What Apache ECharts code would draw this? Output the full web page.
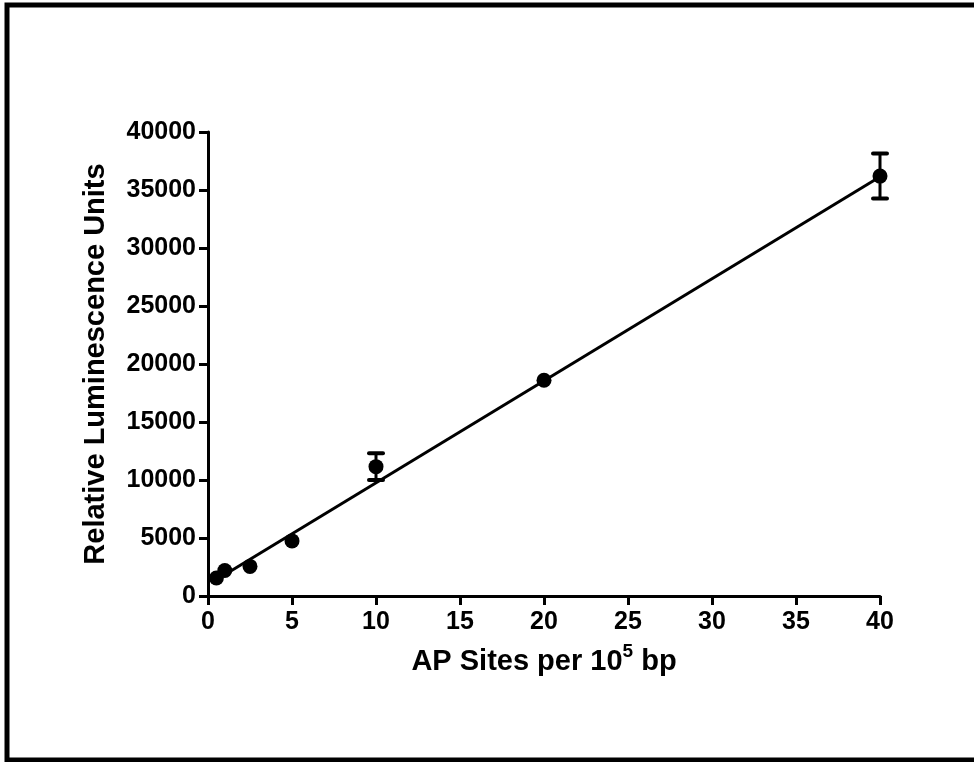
<!DOCTYPE html>
<html>
<head>
<meta charset="utf-8">
<script src="https://cdn.jsdelivr.net/npm/echarts@6/dist/echarts.min.js"></script>
<style>
  html, body { margin: 0; padding: 0; background: #fff; }
  #chart { width: 974px; height: 762px; }
</style>
</head>
<body>
<div id="chart"></div>
<script>
// values
var sites = [0.5, 1, 2.5, 5, 10, 20, 40];
var rlu = [1550, 2200, 2550, 4750, 11150, 18600, 36200];
var rluErr = [0, 0, 0, 0, 1160, 0, 1940];
// fitted line end points
var fitLine = [[0.5, 1400], [40, 36150]];
var xTicks = [0, 5, 10, 15, 20, 25, 30, 35, 40];

var font = '"Liberation Sans", Arial, sans-serif';

var points = sites.map(function (x, i) { return [x, rlu[i]]; });
var bars = sites.map(function (x, i) { return [x, rlu[i], rluErr[i]]; });

var chart = echarts.init(document.getElementById('chart'));
chart.setOption({
  animation: false,
  backgroundColor: '#fff',
  graphic: [{
    type: 'polyline',
    shape: { points: [[980, 5], [7, 5], [7, 760], [980, 760]] },
    style: { stroke: '#000', lineWidth: 5, fill: null }
  }],
  grid: { left: 208, right: 94, top: 132, bottom: 166 },
  xAxis: {
    type: 'value',
    min: 0, max: 40, interval: 5,
    name: '{b|AP Sites per 10}{s|5}{b| bp}',
    nameLocation: 'middle',
    nameGap: 46,
    nameTextStyle: {
      rich: {
        b: { fontFamily: font, fontWeight: 'bold', fontSize: 29, color: '#000', verticalAlign: 'bottom', lineHeight: 34 },
        s: { fontFamily: font, fontWeight: 'bold', fontSize: 19, color: '#000', verticalAlign: 'top', lineHeight: 34, padding: [0, 0, 14, 0] }
      }
    },
    splitLine: { show: false },
    axisLine: { onZero: false, lineStyle: { color: '#000', width: 3 } },
    axisTick: { inside: false, length: 9, lineStyle: { color: '#000', width: 3 } },
    axisLabel: {
      margin: 14, color: '#000', fontFamily: font, fontWeight: 'bold', fontSize: 25,
      customValues: xTicks
    }
  },
  yAxis: {
    type: 'value',
    min: 0, max: 40000, interval: 5000,
    name: 'Relative Luminescence Units',
    nameLocation: 'middle',
    nameGap: 98,
    nameTextStyle: { fontFamily: font, fontWeight: 'bold', fontSize: 29, color: '#000' },
    splitLine: { show: false },
    axisLine: { show: true, lineStyle: { color: '#000', width: 3 } },
    axisTick: { show: true, length: 9, lineStyle: { color: '#000', width: 3 } },
    axisLabel: {
      margin: 12, color: '#000', fontFamily: font, fontWeight: 'bold', fontSize: 25,
      formatter: function (v) { return String(v); }
    }
  },
  series: [
    {
      type: 'line',
      data: fitLine,
      showSymbol: false,
      lineStyle: { color: '#000', width: 3 },
      z: 2
    },
    {
      type: 'custom',
      data: bars,
      z: 3,
      renderItem: function (params, api) {
        var e = api.value(2);
        if (!e) return;
        var x = api.value(0), y = api.value(1);
        var top = api.coord([x, y + e]);
        var bot = api.coord([x, y - e]);
        var w = 7;
        return {
          type: 'group',
          children: [
            { type: 'line', shape: { x1: top[0], y1: top[1], x2: bot[0], y2: bot[1] }, style: { stroke: '#000', lineWidth: 3 } },
            { type: 'line', shape: { x1: top[0] - w, y1: top[1], x2: top[0] + w, y2: top[1] }, style: { stroke: '#000', lineWidth: 4, lineCap: 'round' } },
            { type: 'line', shape: { x1: bot[0] - w, y1: bot[1], x2: bot[0] + w, y2: bot[1] }, style: { stroke: '#000', lineWidth: 4, lineCap: 'round' } }
          ]
        };
      }
    },
    {
      type: 'scatter',
      data: points,
      symbol: 'circle',
      symbolSize: 15,
      itemStyle: { color: '#000', opacity: 1 },
      z: 4
    }
  ]
});
</script>
</body>
</html>
